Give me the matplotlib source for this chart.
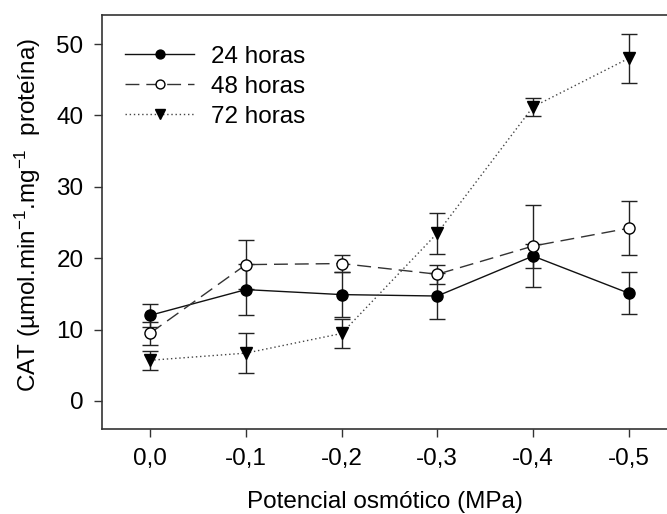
import matplotlib
matplotlib.use("Agg")
import matplotlib.pyplot as plt

plt.rcParams['font.family'] = ['Liberation Sans', 'DejaVu Sans']
plt.rcParams['mathtext.fontset'] = 'custom'
plt.rcParams['mathtext.rm'] = 'Liberation Sans'
plt.rcParams['mathtext.it'] = 'Liberation Sans:italic'
plt.rcParams['mathtext.bf'] = 'Liberation Sans:bold'

categories = ["0,0", "-0,1", "-0,2", "-0,3", "-0,4", "-0,5"]
h24 = [12.0, 15.6, 14.9, 14.7, 20.3, 15.1]
h24_err = [1.65, 3.6, 3.2, 3.2, 1.7, 2.95]
h48 = [9.5, 19.1, 19.25, 17.75, 21.7, 24.2]
h48_err = [1.6, 3.4, 1.15, 1.35, 5.7, 3.8]
h72 = [5.7, 6.7, 9.45, 23.5, 41.2, 48.0]
h72_err = [1.35, 2.85, 2.0, 2.85, 1.25, 3.45]
labels = ["24 horas", "48 horas", "72 horas"]

FS = 17.5

fig = plt.figure(figsize=(6.67, 5.14), dpi=100)
ax = fig.add_axes([0.1534, 0.1644, 0.8466, 0.8064])

x = list(range(len(categories)))
ecol = '#222222'
ekw = dict(fmt='none', ecolor=ecol, elinewidth=1.0, capsize=5.5, capthick=1.0, zorder=2)
ax.errorbar(x, h24, yerr=h24_err, **ekw)
ax.errorbar(x, h48, yerr=h48_err, **ekw)
ax.errorbar(x, h72, yerr=h72_err, **ekw)

l1, = ax.plot(x, h24, color='#111111', lw=1.0, marker='o', ms=8,
              mfc='black', mec='black', label=labels[0], zorder=4)
l2, = ax.plot(x, h48, color='#333333', lw=1.0, dashes=(10, 5), marker='o', ms=8,
              mfc='white', mec='black', mew=1.0, label=labels[1], zorder=4)
l3, = ax.plot(x, h72, color='#444444', lw=1.0, ls=(0, (1, 2)), marker='v', ms=8.5,
              mfc='black', mec='black', label=labels[2], zorder=4)

ax.set_xlim(-0.5, 5.4)
ax.set_ylim(-4, 54.07)
ax.set_xticks(x)
ax.set_xticklabels(categories)
ax.set_yticks([0, 10, 20, 30, 40, 50])

for s in ['left', 'top', 'bottom']:
    ax.spines[s].set_color('#333333')
    ax.spines[s].set_linewidth(1.2)
ax.spines['right'].set_visible(False)
ax.tick_params(axis='both', direction='out', length=5.5, width=1, color='#333333',
               labelsize=FS, pad=8)

ax.set_xlabel("Potencial osmótico (MPa)", fontsize=FS, labelpad=15)
ax.set_ylabel(r"CAT (µmol.min$^{-1}$.mg$^{-1}$  proteína)", fontsize=FS)
ax.yaxis.set_label_coords(-0.105, 0.517)

leg = ax.legend(handles=[l1, l2, l3], loc='upper left', bbox_to_anchor=(0.04, 0.926),
                frameon=False, fontsize=FS, borderpad=0, borderaxespad=0,
                handlelength=2.85, handletextpad=0.7, labelspacing=0.33, markerscale=0.8)

fig.savefig("out.png", dpi=100)
